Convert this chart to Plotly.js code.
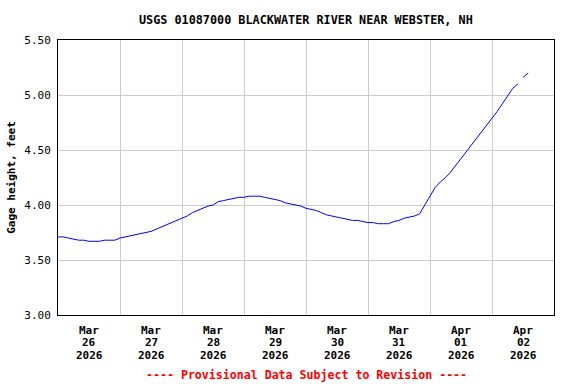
<!DOCTYPE html>
<html><head><meta charset="utf-8">
<script src="https://cdn.plot.ly/plotly-3.0.1.min.js"></script>
<style>body{margin:0;background:#fff}#c{width:576px;height:384px}</style>
</head><body><div id="c"></div>
<script>
// hours after 2026-03-26 00:00, gage height in feet
const hours = [0,2,4,6,8,10,12,14,16,18,20,22,24,26,28,30,32,34,36,38,40,42,44,46,48,50,52,54,56,58,60,62,64,66,68,70,72,74,76,78,80,82,84,86,88,90,92,94,96,98,100,102,104,106,108,110,112,114,116,118,120,122,124,126,128,130,132,134,136,138,140,142,144,146,148,150,152,154,156,158,160,162,164,166,168,170,172,174,176,178,179,180,182];
const gage = [3.71,3.71,3.70,3.69,3.68,3.68,3.67,3.67,3.67,3.68,3.68,3.68,3.70,3.71,3.72,3.73,3.74,3.75,3.76,3.78,3.80,3.82,3.84,3.86,3.88,3.90,3.93,3.95,3.97,3.99,4.00,4.03,4.04,4.05,4.06,4.07,4.07,4.08,4.08,4.08,4.07,4.06,4.05,4.04,4.02,4.01,4.00,3.99,3.97,3.96,3.95,3.93,3.91,3.90,3.89,3.88,3.87,3.86,3.86,3.85,3.84,3.84,3.83,3.83,3.83,3.85,3.86,3.88,3.89,3.90,3.92,4.00,4.08,4.16,4.21,4.25,4.30,4.36,4.42,4.49,4.55,4.60,4.66,4.72,4.78,4.85,4.92,4.99,5.06,5.10,null,5.16,5.20];
const dayMonths = ["Mar","Mar","Mar","Mar","Mar","Mar","Apr","Apr"];
const dayNums = ["26","27","28","29","30","31","01","02"];
const dayYears = ["2026","2026","2026","2026","2026","2026","2026","2026"];
const dayDates = ["2026-03-26","2026-03-27","2026-03-28","2026-03-29","2026-03-30","2026-03-31","2026-04-01","2026-04-02"];
const yTicks = [3.00,3.50,4.00,4.50,5.00,5.50];
const titleText = "USGS 01087000 BLACKWATER RIVER NEAR WEBSTER, NH";
const footText = "---- Provisional Data Subject to Revision ----";

function hToDate(h){
  const base = Date.UTC(2026,2,26,0,0,0);
  const d = new Date(base + h*3600*1000);
  return d.toISOString().slice(0,19).replace('T',' ');
}
const xs = hours.map(hToDate);
const mono = "DejaVu Sans Mono, monospace";

const ann = [];
dayDates.forEach((d,i)=>{
  const x = d + " 12:00:00";
  [dayMonths[i], dayNums[i], dayYears[i]].forEach((t,j)=>{
    ann.push({x:x, xref:'x', y:-0.055 - j*0.0455, yref:'paper', text:'<b>'+t+'</b>', showarrow:false,
      font:{family:mono,size:11,color:'#000'}, xanchor:'center', yanchor:'middle'});
  });
});
ann.push({x:0.5, xref:'paper', y:-0.219, yref:'paper', text:'<b>'+footText+'</b>', showarrow:false,
  font:{family:mono,size:11.6,color:'#ff0000'}, xanchor:'center', yanchor:'middle'});

const gridDates = ["2026-03-26","2026-03-27","2026-03-28","2026-03-29","2026-03-30","2026-03-31","2026-04-01","2026-04-02","2026-04-03"];

Plotly.newPlot('c', [{
  x: xs, y: gage, type:'scatter', mode:'lines', connectgaps:false,
  line:{color:'#0000ff', width:1}, hoverinfo:'skip'
}], {
  width:576, height:384,
  margin:{l:58, r:22, t:40, b:69},
  paper_bgcolor:'#fff', plot_bgcolor:'#fff',
  showlegend:false,
  title:{text:'<b>'+titleText+'</b>', font:{family:mono,size:11.8,color:'#000'}, x:0.531, xanchor:'center', y:0.948, yanchor:'middle'},
  xaxis:{type:'date', range:['2026-03-26 00:00:00','2026-04-03 00:00:00'], tickvals:gridDates, showticklabels:false,
    showgrid:true, gridcolor:'#cccccc', gridwidth:1, showline:true, linecolor:'#000', linewidth:1, mirror:true, ticks:'', zeroline:false},
  yaxis:{range:[3.0,5.5], tickvals:yTicks, tickformat:'.2f', showgrid:true, gridcolor:'#cccccc', gridwidth:1,
    showline:true, linecolor:'#000', linewidth:1, mirror:true, ticks:'', zeroline:false,
    tickfont:{family:mono,size:11,color:'#000'}, ticklabelstandoff:4,
    title:{text:'<b>Gage height, feet</b>', font:{family:mono,size:11,color:'#000'}, standoff:6}},
  annotations: ann
}, {staticPlot:true});
</script></body></html>
